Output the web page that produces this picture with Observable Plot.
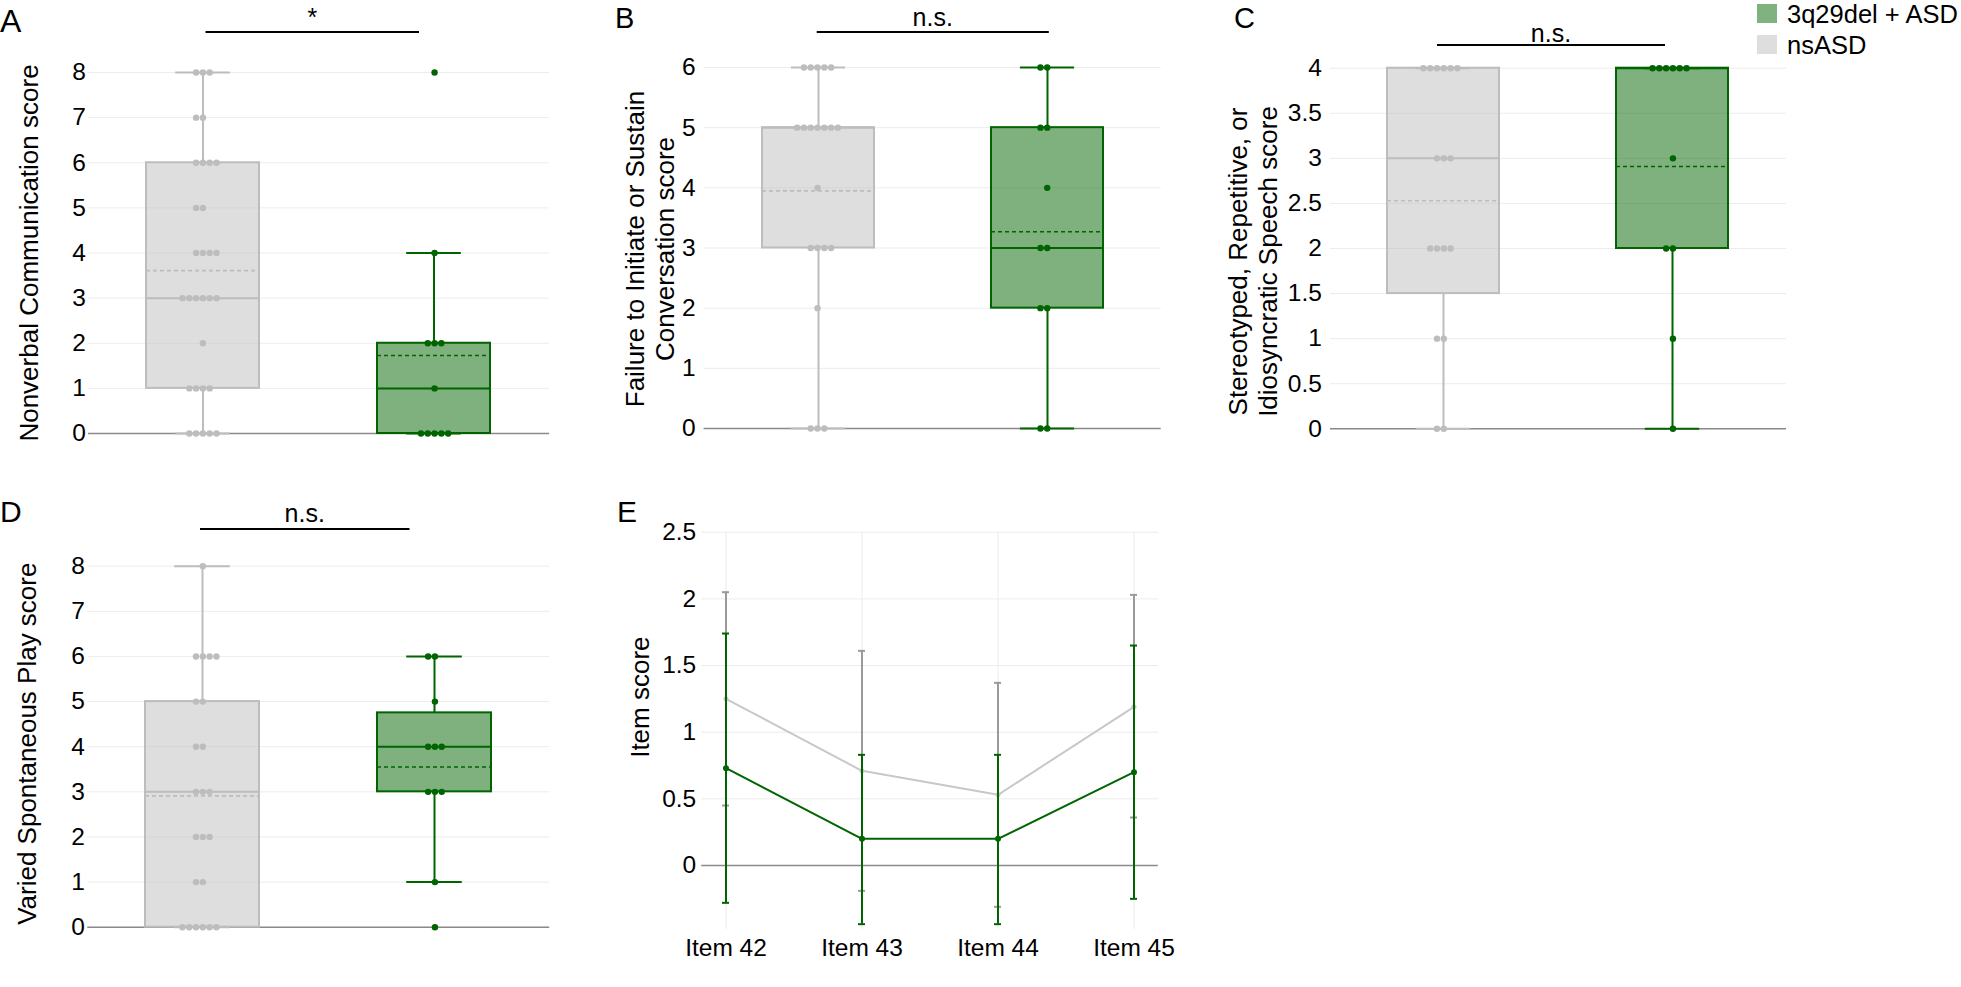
<!DOCTYPE html>
<html>
<head>
<meta charset="utf-8">
<script src="https://cdn.jsdelivr.net/npm/d3@7"></script>
<script src="https://cdn.jsdelivr.net/npm/@observablehq/plot@0.6"></script>
<style>
  html, body { margin: 0; padding: 0; background: #fff; }
  body { width: 1961px; height: 987px; position: relative; overflow: hidden;
         font-family: "Liberation Sans", Arial, Helvetica, sans-serif; }
  .panel { position: absolute; }
  .panel svg { display: block; }
  #overlay { position: absolute; left: 0; top: 0; pointer-events: none; }
</style>
</head>
<body>
<div id="pA" class="panel" style="left:0px;top:0px;width:560px;height:470px"></div>
<div id="pB" class="panel" style="left:600px;top:0px;width:580px;height:470px"></div>
<div id="pC" class="panel" style="left:1200px;top:0px;width:761px;height:470px"></div>
<div id="pD" class="panel" style="left:0px;top:470px;width:560px;height:517px"></div>
<div id="pE" class="panel" style="left:600px;top:470px;width:580px;height:517px"></div>
<svg id="overlay" width="1961" height="987"></svg>
<script>
// ---------------- DATA ----------------
const groups = ["nsASD", "3q29del + ASD"];
const legendOrder = ["3q29del + ASD", "nsASD"];
const groupColors = ["#bdbdbd", "#006400"];

// Panel A — Nonverbal Communication score (individual scores)
const aNsASD = [8,8,8,7,7,6,6,6,6,5,5,4,4,4,4,3,3,3,3,3,3,2,1,1,1,1,0,0,0,0,0];
const a3q29  = [8,4,2,2,2,1,0,0,0,0,0];
const aQ1 = [1, 0], aMedian = [3, 1], aQ3 = [6, 2], aLow = [0, 0], aHigh = [8, 4], aMean = [3.61, 1.73];

// Panel B — Failure to Initiate or Sustain Conversation score
const bNsASD = [6,6,6,6,6,5,5,5,5,5,5,5,4,3,3,3,3,2,0,0,0];
const b3q29  = [6,6,5,5,4,3,3,2,2,0,0];
const bQ1 = [3, 2], bMedian = [5, 3], bQ3 = [5, 5], bLow = [0, 0], bHigh = [6, 6], bMean = [3.95, 3.27];

// Panel C — Stereotyped, Repetitive, or Idiosyncratic Speech score
const cNsASD = [4,4,4,4,4,4,3,3,3,2,2,2,2,1,1,0,0];
const c3q29  = [4,4,4,4,4,4,3,2,2,1,0];
const cQ1 = [1.5, 2], cMedian = [3, 4], cQ3 = [4, 4], cLow = [0, 0], cHigh = [4, 4], cMean = [2.53, 2.91];

// Panel D — Varied Spontaneous Play score
const dNsASD = [8,6,6,6,6,5,5,4,4,3,3,3,2,2,2,1,1,0,0,0,0,0,0];
const d3q29  = [6,6,5,4,4,4,3,3,3,1,0];
const dQ1 = [0, 3], dMedian = [3, 4], dQ3 = [5, 4.75], dLow = [0, 1], dHigh = [8, 6], dMean = [2.91, 3.55];

// Panel E — Item scores (mean with error bars)
const items = ["Item 42", "Item 43", "Item 44", "Item 45"];
const eNsMean = [1.25, 0.71, 0.53, 1.19];
const eNsLow  = [0.45, -0.19, -0.31, 0.36];
const eNsHigh = [2.05, 1.61, 1.37, 2.03];
const e3qMean = [0.73, 0.20, 0.20, 0.70];
const e3qLow  = [-0.28, -0.44, -0.44, -0.25];
const e3qHigh = [1.74, 0.83, 0.83, 1.65];

// Tick values
const ticks0to8 = [0,1,2,3,4,5,6,7,8];
const ticks0to6 = [0,1,2,3,4,5,6];
const ticksC = [0,0.5,1,1.5,2,2.5,3,3.5,4];
const ticksE = [0,0.5,1,1.5,2,2.5];

// Annotation texts
const panelLetters = ["A", "B", "C", "D", "E"];
const sigLabels = ["*", "n.s.", "n.s.", "n.s."];
const yLabels = [
  ["Nonverbal Communication score"],
  ["Failure to Initiate or Sustain", "Conversation score"],
  ["Stereotyped, Repetitive, or", "Idiosyncratic Speech score"],
  ["Varied Spontaneous Play score"],
  ["Item score"]
];

// ---------------- DRAWING ----------------
const FONT = '"Liberation Sans", Arial, Helvetica, sans-serif';
const PI = 0.51, PO = 0.25;
const TICK_FS = 24.5, TITLE_FS = 26, TITLE_LH = 29.5;

// axis title: one rotated text mark per line, centred on the given offset
function titleMarks(lines, dxCenter, dy) {
  const n = lines.length;
  return lines.map((t, i) => Plot.text([t], {
    frameAnchor: "left", rotate: -90, textAnchor: "middle", lineAnchor: "middle",
    dx: dxCenter + (i - (n - 1) / 2) * TITLE_LH, dy,
    fontSize: TITLE_FS, fill: "#000"
  }));
}

function boxPanel(cfg) {
  const {id, width, height, ml, mr, mt, mb, yDomain, yTicks, tickPadding, label, labelDx, labelDy,
         points, q1, median, q3, low, high, mean} = cfg;
  const stats = groups.map((g, i) => ({group: g, q1: q1[i], median: median[i], q3: q3[i],
                                        low: low[i], high: high[i], mean: mean[i]}));
  const innerW = width - ml - mr;
  const band = d3.scaleBand().domain(groups).range([0, innerW]).paddingInner(PI).paddingOuter(PO);
  const bw = band.bandwidth();
  const capInset = bw * 0.257;
  const dotMarks = groups.map((g, i) =>
    Plot.dot(points[i].map(v => ({group: g, value: v})),
      Plot.dodgeX({anchor: "middle", padding: 0.4},
        {y: "value", r: 3.2, fill: "group", dx: band(g) - innerW / 2})));
  const plot = Plot.plot({
    width, height, marginLeft: ml, marginRight: mr, marginTop: mt, marginBottom: mb,
    style: {fontFamily: FONT, background: "transparent", overflow: "visible", color: "#000"},
    x: {type: "band", domain: groups, paddingInner: PI, paddingOuter: PO, axis: null},
    y: {domain: yDomain},
    color: {domain: groups, range: groupColors},
    marks: [
      Plot.gridY(yTicks, {stroke: "#ececec", strokeOpacity: 1, strokeWidth: 1}),
      Plot.axisY(yTicks, {tickSize: 0, tickPadding, fontSize: TICK_FS, tickFormat: d => String(d), label: null, fill: "#000"}),
      Plot.ruleY([0], {stroke: "#8a8a8a", strokeWidth: 1.5}),
      Plot.ruleX(stats, {x: "group", y1: "low", y2: "q1", stroke: "group", strokeWidth: 2}),
      Plot.ruleX(stats, {x: "group", y1: "q3", y2: "high", stroke: "group", strokeWidth: 2}),
      Plot.barY(stats, {x: "group", y1: "q1", y2: "q3", fill: "group", fillOpacity: 0.5, stroke: "group", strokeWidth: 2}),
      Plot.tickY(stats, {x: "group", y: "median", stroke: "group", strokeWidth: 2}),
      Plot.tickY(stats, {x: "group", y: "mean", stroke: "group", strokeWidth: 1.6, strokeDasharray: "4,3"}),
      Plot.tickY(stats, {x: "group", y: "low", stroke: "group", strokeWidth: 2, insetLeft: capInset, insetRight: capInset}),
      Plot.tickY(stats, {x: "group", y: "high", stroke: "group", strokeWidth: 2, insetLeft: capInset, insetRight: capInset}),
      ...dotMarks,
      ...titleMarks(label, labelDx, labelDy)
    ]
  });
  document.getElementById(id).append(plot);
}

boxPanel({id: "pA", width: 560, height: 470, ml: 88, mr: 11, mt: 72, mb: 37,
  yDomain: [0, 8], yTicks: ticks0to8, tickPadding: 2.5, label: yLabels[0], labelDx: -59.3, labelDy: 0,
  points: [aNsASD, a3q29], q1: aQ1, median: aMedian, q3: aQ3, low: aLow, high: aHigh, mean: aMean});

boxPanel({id: "pB", width: 580, height: 470, ml: 103.6, mr: 19.3, mt: 67, mb: 42,
  yDomain: [0, 6], yTicks: ticks0to6, tickPadding: 8.5, label: yLabels[1], labelDx: -53.2, labelDy: 1,
  points: [bNsASD, b3q29], q1: bQ1, median: bMedian, q3: bQ3, low: bLow, high: bHigh, mean: bMean});

boxPanel({id: "pC", width: 761, height: 470, ml: 130, mr: 175, mt: 67.7, mb: 41.7,
  yDomain: [0, 4], yTicks: ticksC, tickPadding: 8.6, label: yLabels[2], labelDx: -76.6, labelDy: 13,
  points: [cNsASD, c3q29], q1: cQ1, median: cMedian, q3: cQ3, low: cLow, high: cHigh, mean: cMean});

boxPanel({id: "pD", width: 560, height: 517, ml: 87.3, mr: 10.8, mt: 95.7, mb: 60.3,
  yDomain: [0, 8], yTicks: ticks0to8, tickPadding: 3, label: yLabels[3], labelDx: -60.5, labelDy: -3,
  points: [dNsASD, d3q29], q1: dQ1, median: dMedian, q3: dQ3, low: dLow, high: dHigh, mean: dMean});

// Panel E
(function () {
  const rows = (g, m, lo, hi) => items.map((it, i) => ({item: it, group: g, mean: m[i], lo: lo[i], hi: hi[i]}));
  const ns = rows("nsASD", eNsMean, eNsLow, eNsHigh);
  const g3 = rows("3q29del + ASD", e3qMean, e3qLow, e3qHigh);
  const greyLine = "#c8c8c8", greyBar = "#9a9a9a", green = "#006400";
  const plot = Plot.plot({
    width: 580, height: 517, marginLeft: 101.2, marginRight: 22.2, marginTop: 61.7, marginBottom: 58,
    style: {fontFamily: FONT, background: "transparent", overflow: "visible", color: "#000"},
    x: {type: "band", domain: items, paddingInner: 0.949, paddingOuter: 0.144, axis: null},
    y: {domain: [-0.48, 2.5]},
    marks: [
      Plot.gridX(items, {stroke: "#ececec", strokeOpacity: 1, strokeWidth: 1}),
      Plot.gridY(ticksE, {stroke: "#ececec", strokeOpacity: 1, strokeWidth: 1}),
      Plot.ruleY([0], {stroke: "#8a8a8a", strokeWidth: 1.5}),
      Plot.axisY(ticksE, {tickSize: 0, tickPadding: 5.5, fontSize: TICK_FS, tickFormat: d => String(d), label: null, fill: "#000"}),
      Plot.axisX(items, {tickSize: 0, tickPadding: 9, fontSize: TICK_FS, label: null, fill: "#000"}),
      Plot.line(ns, {x: "item", y: "mean", stroke: greyLine, strokeWidth: 2}),
      Plot.ruleX(ns, {x: "item", y1: "lo", y2: "hi", stroke: greyBar, strokeWidth: 2}),
      Plot.tickY(ns, {x: "item", y: "lo", stroke: greyBar, strokeWidth: 2}),
      Plot.tickY(ns, {x: "item", y: "hi", stroke: greyBar, strokeWidth: 2}),
      Plot.dot(ns, {x: "item", y: "mean", r: 2.5, fill: greyLine}),
      Plot.line(g3, {x: "item", y: "mean", stroke: green, strokeWidth: 2}),
      Plot.ruleX(g3, {x: "item", y1: "lo", y2: "hi", stroke: green, strokeWidth: 2}),
      Plot.tickY(g3, {x: "item", y: "lo", stroke: green, strokeWidth: 2}),
      Plot.tickY(g3, {x: "item", y: "hi", stroke: green, strokeWidth: 2}),
      Plot.dot(g3, {x: "item", y: "mean", r: 3, fill: green}),
      ...titleMarks(yLabels[4], -61.2, -33.7)
    ]
  });
  document.getElementById("pE").append(plot);
})();

// ---------------- ANNOTATIONS (panel letters, significance bars, legend) ----------------
const ov = d3.select("#overlay").style("font-family", FONT);
const letterPos = [[0, 32, 32], [615, 27.5, 29], [1234, 27.5, 29], [0, 522, 30], [617, 522, 30]];
panelLetters.forEach((t, i) => {
  ov.append("text").attr("x", letterPos[i][0]).attr("y", letterPos[i][1])
    .attr("font-size", letterPos[i][2]).attr("fill", "#000").text(t);
});
const sigBars = [[205.5, 419, 32, 26], [816.7, 1048.8, 32, 26], [1437, 1665, 45, 41.5], [200, 409.5, 529, 521.7]];
sigLabels.forEach((t, i) => {
  const [x1, x2, y, by] = sigBars[i];
  ov.append("line").attr("x1", x1).attr("x2", x2).attr("y1", y).attr("y2", y)
    .attr("stroke", "#000").attr("stroke-width", 2);
  ov.append("text").attr("x", (x1 + x2) / 2).attr("y", by).attr("text-anchor", "middle")
    .attr("font-size", 25).attr("fill", "#000").text(t);
});
const legendFill = {"3q29del + ASD": "#80b280", "nsASD": "#dedede"};
legendOrder.forEach((g, i) => {
  const y0 = 4 + i * 31;
  ov.append("rect").attr("x", 1757).attr("y", y0).attr("width", 20).attr("height", 19).attr("fill", legendFill[g]);
  ov.append("text").attr("x", 1787).attr("y", y0 + 19).attr("font-size", 25.5).attr("fill", "#000").text(g);
});
</script>
</body>
</html>
